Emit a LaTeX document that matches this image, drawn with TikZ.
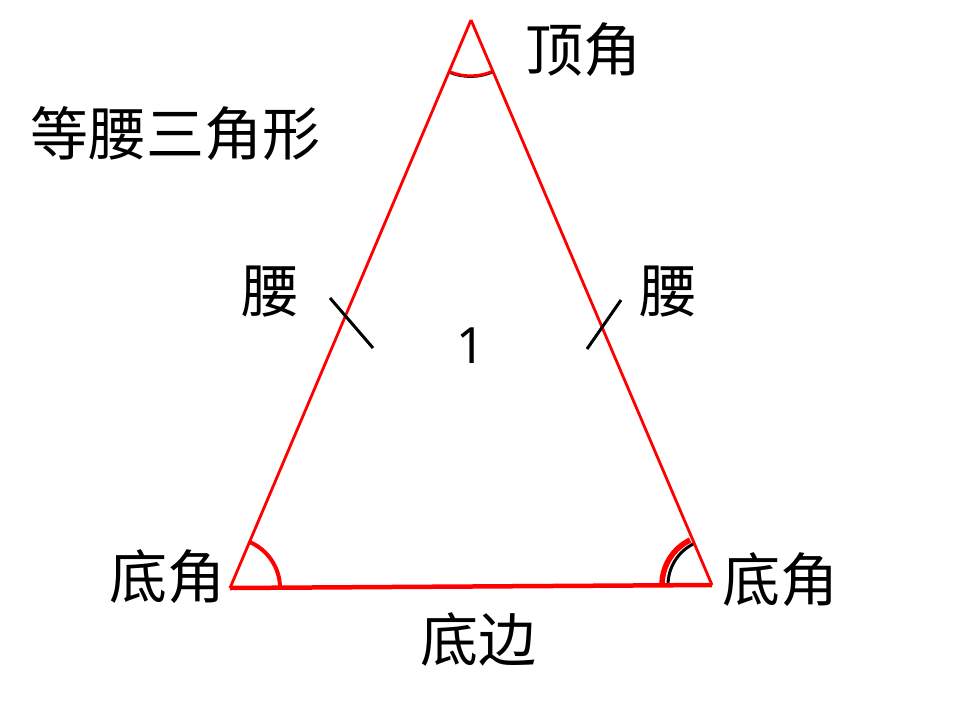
\documentclass[tikz,border=0pt]{standalone}
\usepackage{fontspec}
\newfontfamily\cjk{Noto Sans CJK SC}
\begin{document}
\begin{tikzpicture}[x=1pt,y=-1pt,
  lbl/.style={font=\cjk\fontsize{58}{62}\selectfont, inner sep=0pt},
  side/.style={draw=red, line width=2.8pt},
  tick/.style={draw=black, line width=3pt},
  arcred/.style={draw=red, line width=4pt}]
\useasboundingbox (0,0) rectangle (960,720);
\coordinate (A) at (471,20);
\coordinate (B) at (230,588);
\coordinate (C) at (712,585);
% angle arcs (black under red)
\draw[black, line width=3pt] ([shift={(2,0)}]C) ++(180:46) arc[start angle=180, end angle=244, radius=46];
\draw[red, line width=5.5pt] (C) ++(180:50) arc[start angle=180, end angle=244, radius=50];
\draw[arcred] (B) ++(0:50) arc[start angle=0, end angle=-67, radius=50];
\draw[black, line width=2pt] (A) ++(113:57) arc[start angle=113, end angle=66, radius=56];
\draw[red, line width=3pt] (A) ++(113:56) arc[start angle=113, end angle=66, radius=55];
% sides
\draw[side] (A) -- (B);
\draw[side] (A) -- (C);
\draw[red, line width=4.5pt] (B) -- (C);
% ticks
\coordinate (t1a) at (330,298); \coordinate (t1b) at (373,348);
\coordinate (t2a) at (621,300); \coordinate (t2b) at (587,349);
\draw[tick] (t1a) -- (t1b);
\draw[tick] (t2a) -- (t2b);
% labels
\node[lbl] (title) at (175,134) {等腰三角形};
\node[lbl] (top) at (583,50) {顶角};
\node[lbl] (yl) at (270,292) {腰};
\node[lbl] (yr) at (668,292) {腰};
\node[font=\fontspec{Noto Sans}\fontsize{50}{54}\selectfont, inner sep=0pt] (one) at (471,346) {1};
\node[lbl] (bl) at (167,577) {底角};
\node[lbl] (br) at (780,580) {底角};
\node[lbl] (base) at (478,639) {底边};
\end{tikzpicture}
\end{document}
